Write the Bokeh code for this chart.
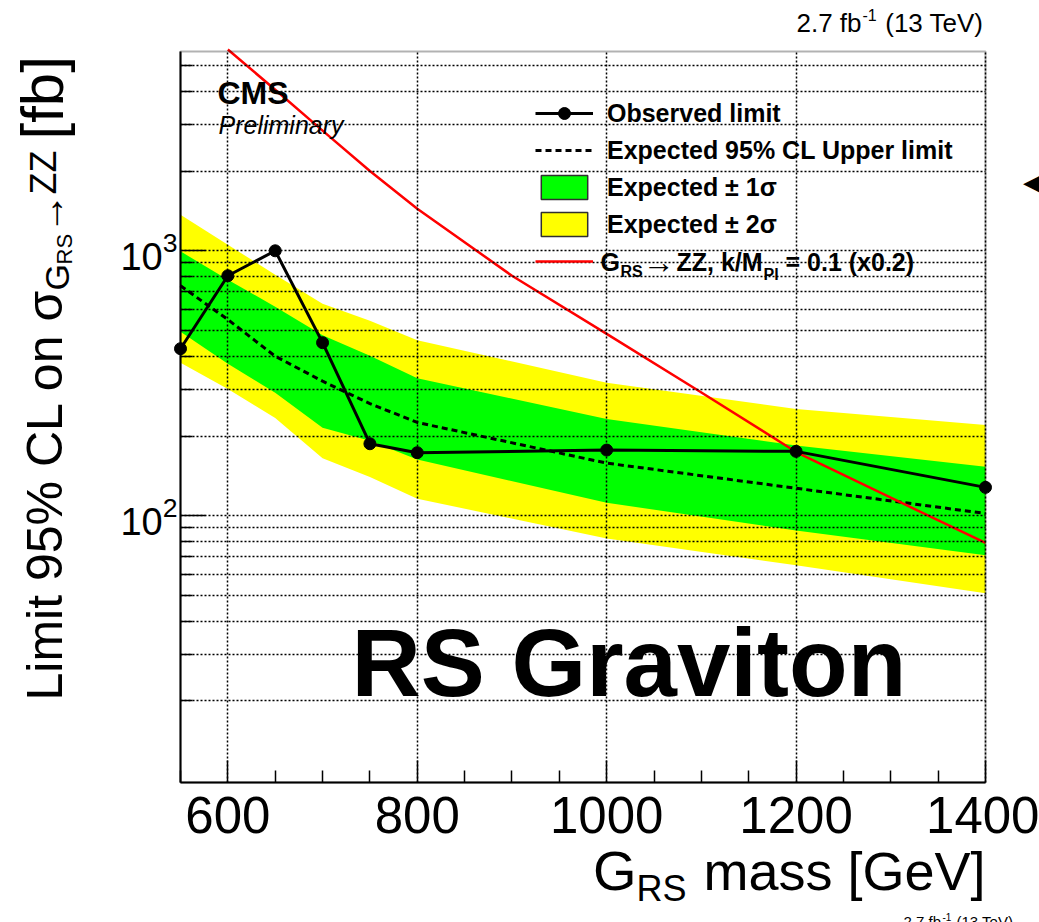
import math
from bokeh.plotting import figure
from bokeh.models import (FixedTicker, Label, Legend, LegendItem, Range1d,
                          BoxAnnotation)
from bokeh.embed import file_html
from bokeh.resources import INLINE

# ---------------- data ----------------
mass = [550, 600, 650, 700, 750, 800, 1000, 1200, 1400]
observed = [427, 805, 1000, 450, 187, 173, 177, 175, 128]
expected = [738, 550, 400, 322, 265, 225, 158, 127, 102]
exp_plus1 = [995, 778, 615, 480, 402, 330, 232, 184, 153]
exp_minus1 = [495, 375, 291, 215, 192, 163, 112, 88, 71]
exp_plus2 = [1368, 1054, 812, 631, 544, 460, 318, 253, 220]
exp_minus2 = [378, 301, 234, 165, 140, 116, 82, 65, 51]

theory_mass = [600, 650, 700, 750, 800, 900, 1000, 1100, 1200, 1300, 1400]
theory_xsec = [5750, 4050, 2840, 2000, 1440, 805, 486, 292, 174, 117, 79]

x_major = [600, 800, 1000, 1200, 1400]
x_minor = [550, 650, 700, 750, 850, 900, 950, 1050, 1100, 1150, 1250, 1300, 1350]
y_major = [100, 1000]
y_minor = [20, 30, 40, 50, 60, 70, 80, 90,
           200, 300, 400, 500, 600, 700, 800, 900,
           2000, 3000, 4000, 5000]

legend_labels = ["Observed limit", "Expected 95% CL Upper limit",
                 "Expected \u00b1 1\u03c3", "Expected \u00b1 2\u03c3"]

# axis ranges of the drawn box
x_lo, x_hi = 550, 1400
y_lo, y_hi = 9.85, 5650

# ---------------- layout ----------------
W, H = 1039, 922
BOX_L, BOX_R, BOX_T, BOX_B = 180, 985, 51, 782
SANS = "Liberation Sans"

# the plotting frame covers the whole canvas; the visible box is drawn inside it
gpp = (x_hi - x_lo) / (BOX_R - BOX_L)
x_start = x_lo - BOX_L * gpp
x_end = x_hi + (W - BOX_R) * gpp
dpp = math.log10(y_hi / y_lo) / (BOX_B - BOX_T)
y_start = y_lo / 10 ** ((H - BOX_B) * dpp)
y_end = y_hi * 10 ** (BOX_T * dpp)

p = figure(width=W, height=H, x_range=Range1d(x_start, x_end),
           y_range=Range1d(y_start, y_end), y_axis_type="log",
           output_backend="svg", toolbar_location=None, min_border=0)
if p.title is not None:
    p.title.visible = False
p.background_fill_color = "white"
p.border_fill_color = "white"
p.outline_line_color = None

# axes, pinned to the box edges
xa = p.xaxis[0]
xa.fixed_location = y_lo
xa.bounds = (x_lo, x_hi)
xa.ticker = FixedTicker(ticks=x_major, minor_ticks=x_minor)
xa.major_tick_in = 22
xa.major_tick_out = 0
xa.minor_tick_in = 12
xa.minor_tick_out = 0
xa.major_tick_line_width = 1.5
xa.minor_tick_line_width = 1.5
xa.axis_line_width = 2
xa.major_label_text_font = SANS
xa.major_label_text_font_size = "51px"
xa.major_label_text_color = "black"
xa.major_label_standoff = 14

ya = p.yaxis[0]
ya.fixed_location = x_lo
ya.bounds = (y_lo, y_hi)
ya.ticker = FixedTicker(ticks=y_major, minor_ticks=y_minor)
ya.major_tick_in = 25
ya.major_tick_out = 0
ya.minor_tick_in = 12
ya.minor_tick_out = 0
ya.major_tick_line_width = 1.5
ya.minor_tick_line_width = 1.5
ya.axis_line_width = 2
ya.major_label_text_font = SANS
ya.major_label_text_font_size = "38px"
ya.major_label_text_color = "black"
ya.major_label_standoff = 3

# dotted grids drawn over the bands, limited to the box
xg = p.xgrid[0]
yg = p.ygrid[0]
xg.ticker = FixedTicker(ticks=x_major)
yg.ticker = FixedTicker(ticks=y_major, minor_ticks=y_minor)
xg.bounds = (x_lo, x_hi)
yg.bounds = (y_lo, y_hi)
if "cross_bounds" in xg.properties():
    xg.cross_bounds = (y_lo, y_hi)
    yg.cross_bounds = (x_lo, x_hi)
for g in (xg, yg):
    g.grid_line_color = "black"
    g.grid_line_dash = "2 2"
    g.grid_line_width = 1.5
    g.level = "annotation"
yg.minor_grid_line_color = "black"
yg.minor_grid_line_dash = "2 2"
yg.minor_grid_line_width = 1.5

# ---------------- glyphs ----------------
p.varea(x=mass, y1=exp_minus2, y2=exp_plus2, fill_color="#ffff00")
p.varea(x=mass, y1=exp_minus1, y2=exp_plus1, fill_color="#00ff00")
exp_r = p.line(mass, expected, line_color="black", line_width=3, line_dash="6 4")
th_r = p.line(theory_mass, theory_xsec, line_color="#ff0000", line_width=2.5)
obs_l = p.line(mass, observed, line_color="black", line_width=3)
obs_p = p.scatter(mass, observed, marker="circle", size=12,
                  fill_color="black", line_color="black")

# box frame
p.add_layout(BoxAnnotation(left=x_lo, right=x_hi, bottom=y_lo, top=y_hi,
                           fill_color=None, line_color="black", line_width=2))

# hidden outlined band patches, used only for the legend swatches
band_x = mass + mass[::-1]
g_leg = p.patch(band_x, exp_plus1 + exp_minus1[::-1], fill_color="#00ff00",
                line_color="#303030", line_width=1.5, visible=False)
y_leg = p.patch(band_x, exp_plus2 + exp_minus2[::-1], fill_color="#ffff00",
                line_color="#303030", line_width=1.5, visible=False)

LEG_TOP, ROW_H, ROW_GAP, N_ROWS = 98, 30, 7, 5
leg_h = N_ROWS * ROW_H + (N_ROWS - 1) * ROW_GAP
legend = Legend(items=[
    LegendItem(label=legend_labels[0], renderers=[obs_l, obs_p]),
    LegendItem(label=legend_labels[1], renderers=[exp_r]),
    LegendItem(label=legend_labels[2], renderers=[g_leg]),
    LegendItem(label=legend_labels[3], renderers=[y_leg]),
    LegendItem(label=" ", renderers=[th_r]),
], location=(535, H - LEG_TOP - leg_h), orientation="vertical",
    glyph_width=58, glyph_height=ROW_H, label_height=ROW_H, spacing=ROW_GAP,
    padding=0, margin=0, label_standoff=14,
    label_text_font=SANS, label_text_font_style="bold",
    label_text_font_size="25px", label_text_color="black",
    inactive_fill_alpha=0,
    background_fill_alpha=0, border_line_alpha=0)
p.add_layout(legend)


def lab(text, X, Y, size, style="normal", align="left", angle=0.0):
    # (X, Y): anchor in page pixels from the top-left; Y is the text's middle
    p.add_layout(Label(x=X, y=H - Y, x_units="screen", y_units="screen",
                       text=text, text_font=SANS, text_font_size=f"{size}px",
                       text_font_style=style, text_align=align,
                       text_baseline="middle", angle=angle, text_color="black"))


# 5th legend entry text with subscripts
lab("G", 600, 261, 25, style="bold")
lab("RS", 620, 271, 16, style="bold")
lab("\u2192", 642, 261, 32)
lab("ZZ, k/M", 676, 261, 25, style="bold")
lab("Pl", 763, 274, 16, style="bold")
lab("= 0.1 (x0.2)", 785, 261, 25, style="bold")

# CMS labels
lab("CMS", 217, 92, 32, style="bold")
lab("Preliminary", 218, 124, 25, style="italic")
lab("RS Graviton", 351, 662, 96, style="bold")

# luminosity label (top right)
lab("2.7 fb", 861, 22, 26, align="right")
lab("-1", 862, 14, 16)
lab("(13 TeV)", 983, 22, 26, align="right")

# partially visible repeat at the bottom edge (cut by the page edge, as in the source)
lab("2.7 fb", 903, 921, 15)
lab("-1", 942, 916, 10)
lab("(13 TeV)", 956, 921, 15)

# arrow head fragment at right edge
lab("\u25c0", 1022, 181, 30)

# x-axis title
lab("G", 636, 870, 56, align="right")
lab("RS", 686, 888, 36, align="right")
lab("mass [GeV]", 985, 870, 54, align="right")

# y-axis title (rotated)
A = math.pi / 2
lab("Limit 95% CL on \u03c3", 44, 700, 50, angle=A)
lab("G", 56, 290, 34, angle=A)
lab("RS", 64, 264, 22, angle=A)
lab("\u2192", 49, 233, 40, angle=A)
lab("ZZ", 43, 194, 36, angle=A)
lab("[fb]", 42, 139, 60, angle=A)

open("out.html", "w").write(file_html(p, INLINE))
